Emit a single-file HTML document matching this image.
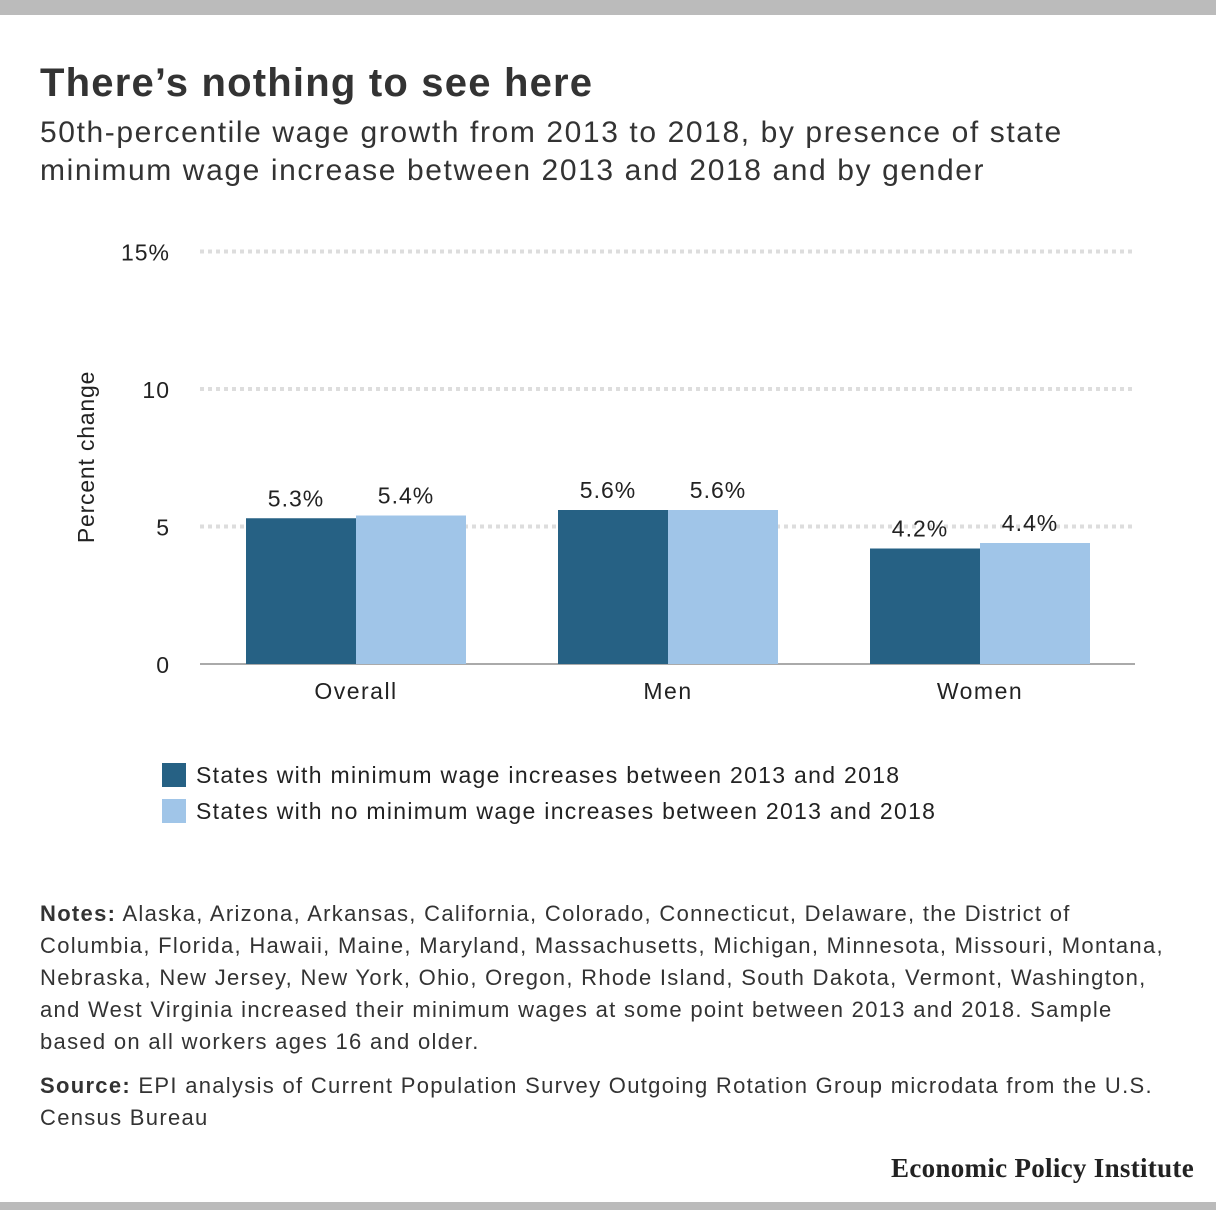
<!DOCTYPE html>
<html><head><meta charset="utf-8"><style>
body{margin:0;width:1216px;height:1210px;background:#fff;font-family:"Liberation Sans",sans-serif;color:#222;position:relative;overflow:hidden}
.abs{position:absolute}
</style></head><body>
<div class="abs" style="left:0;top:0;width:1216px;height:15px;background:#bbb"></div>
<div class="abs" style="left:0;top:1202px;width:1216px;height:8px;background:#bbb"></div>
<div class="abs" style="left:40px;top:61px;font-size:40px;letter-spacing:1.2px;font-weight:bold;color:#333">There’s nothing to see here</div>
<div class="abs" style="left:40px;top:114px;font-size:30px;letter-spacing:1.6px;line-height:38px;color:#333;white-space:nowrap">50th-percentile wage growth from 2013 to 2018, by presence of state<br>minimum wage increase between 2013 and 2018 and by gender</div>
<svg class="abs" style="left:0;top:0" width="1216" height="760" id="chart"></svg>
<div class="abs" style="left:162px;top:757px;font-size:23px;letter-spacing:1.3px;line-height:36px;white-space:nowrap">
<div><span style="display:inline-block;width:24px;height:24px;background:#266184;vertical-align:-4px;margin-right:10px"></span>States with minimum wage increases between 2013 and 2018</div>
<div><span style="display:inline-block;width:24px;height:24px;background:#a0c5e8;vertical-align:-4px;margin-right:10px"></span>States with no minimum wage increases between 2013 and 2018</div>
</div>
<div class="abs" style="left:40px;top:898px;font-size:22px;letter-spacing:1.3px;line-height:32px;color:#333;white-space:nowrap"><b>Notes:</b> Alaska, Arizona, Arkansas, California, Colorado, Connecticut, Delaware, the District of<br>Columbia, Florida, Hawaii, Maine, Maryland, Massachusetts, Michigan, Minnesota, Missouri, Montana,<br>Nebraska, New Jersey, New York, Ohio, Oregon, Rhode Island, South Dakota, Vermont, Washington,<br>and West Virginia increased their minimum wages at some point between 2013 and 2018. Sample<br>based on all workers ages 16 and older.</div>
<div class="abs" style="left:40px;top:1070px;font-size:22px;letter-spacing:1.3px;line-height:32px;color:#333;white-space:nowrap"><b>Source:</b> EPI analysis of Current Population Survey Outgoing Rotation Group microdata from the U.S.<br>Census Bureau</div>
<div class="abs" style="right:22px;top:1153px;font-family:'Liberation Serif',serif;font-weight:bold;font-size:27px;letter-spacing:0.3px;color:#222">Economic Policy Institute</div>
<script>
const categories=["Overall","Men","Women"];
const withIncrease=[5.3,5.6,4.2];
const noIncrease=[5.4,5.6,4.4];
const ticks=[0,5,10,15];
const tickLabels=["0","5","10","15%"];
const svg=document.getElementById('chart');
const NS='http://www.w3.org/2000/svg';
const y=v=>664-v*27.5;
const xc=i=>356+i*312;
function mk(t,a,txt){const e=document.createElementNS(NS,t);for(const k in a)e.setAttribute(k,a[k]);if(txt!==undefined)e.textContent=txt;svg.appendChild(e);return e;}
ticks.forEach((t,i)=>{
 const g=mk('line',{x1:200,x2:1135,y1:y(t),y2:y(t),stroke:t===0?'#aaa':'#ddd','stroke-width':t===0?2:4,'stroke-dasharray':t===0?'':'4 4'});
 
 
 const l=mk('text',{x:170,y:y(t)+9,'text-anchor':'end','font-size':23,'letter-spacing':1,fill:'#222'},tickLabels[i]);
 
 
});
const yt=mk('text',{x:0,y:0,transform:'translate(94,457) rotate(-90)','text-anchor':'middle','font-size':23,'letter-spacing':0.8,fill:'#222'},'Percent change');


categories.forEach((c,i)=>{
 [[withIncrease[i],'#266184',-110],[noIncrease[i],'#a0c5e8',0]].forEach(([v,col,off],k)=>{
  const r=mk('rect',{x:xc(i)+off,y:y(v),width:110,height:664-y(v),fill:col});
  
  
  const t=mk('text',{x:xc(i)+off+50,y:y(v)-12,'text-anchor':'middle','font-size':23,'letter-spacing':1,fill:'#222'},v.toFixed(1)+'%');
  
  
 });
 const xl=mk('text',{x:xc(i),y:699,'text-anchor':'middle','font-size':23,'letter-spacing':1.5,fill:'#222'},c);
 
 
});
</script>
</body></html>
